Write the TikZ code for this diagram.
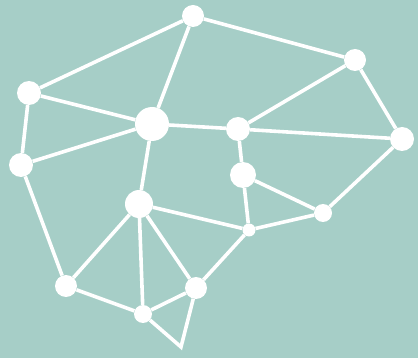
\documentclass[tikz,border=0pt]{standalone}
\usetikzlibrary{positioning}
\definecolor{sea}{RGB}{166,206,199}

\begin{document}
\begin{tikzpicture}[
  x=1pt, y=-1pt,
  dot/.style={circle, fill=white, inner sep=0pt, minimum size=22pt},
  big/.style={dot, minimum size=34pt},
  small/.style={dot, minimum size=13pt},
  link/.style={draw=white, line width=3.6pt}
]

\fill[sea] (0,0) rectangle (418,358);
\useasboundingbox (0,0) rectangle (418,358);

\node[dot] (top) at (193,16) {};
\node[dot] (ne) at (355,60) {};
\node[dot, minimum size=24pt] (west) at (29,93) {};
\node[big] (hub) at (152,124) {};
\node[dot, minimum size=24pt] (mid) at (238,129) {};
\node[dot, minimum size=24pt] (east) at (402,139) {};
\node[dot, minimum size=24pt] (sw) at (21,165) {};
\node[dot, minimum size=26pt] (low) at (243,175) {};
\node[dot, minimum size=28pt] (core) at (139,204) {};
\node[dot, minimum size=18pt] (se) at (323,213) {};
\node[small] (knot) at (249,230) {};
\node[dot] (heel) at (66,286) {};
\node[dot] (foot) at (196,288) {};
\node[dot, minimum size=18pt] (base) at (143,314) {};
\coordinate (tip) at (181,347);

\draw[link] (west) -- (top);
\draw[link] (top) -- (hub);
\draw[link] (top) -- (ne);
\draw[link] (ne) -- (mid);
\draw[link] (ne) -- (east);
\draw[link] (west) -- (hub);
\draw[link] (west) -- (sw);
\draw[link] (sw) -- (hub);
\draw[link] (hub) -- (mid);
\draw[link] (hub) -- (core);
\draw[link] (mid) -- (east);
\draw[link] (mid) -- (low);
\draw[link] (east) -- (se);
\draw[link] (low) -- (se);
\draw[link] (low) -- (knot);
\draw[link] (se) -- (knot);
\draw[link] (core) -- (knot);
\draw[link] (knot) -- (foot);
\draw[link] (core) -- (heel);
\draw[link] (core) -- (base);
\draw[link] (core) -- (foot);
\draw[link] (sw) -- (heel);
\draw[link] (heel) -- (base);
\draw[link] (base) -- (foot);
\draw[link, line join=miter] (base) -- (tip) -- (foot);

\end{tikzpicture}
\end{document}
